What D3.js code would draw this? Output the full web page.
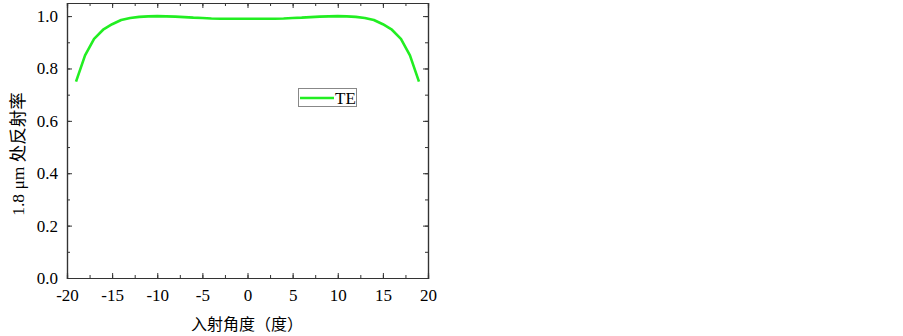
<!DOCTYPE html>
<html><head><meta charset="utf-8">
<script src="https://cdn.jsdelivr.net/npm/d3@7"></script>
<style>body{margin:0;background:#fff}svg{display:block}</style>
</head><body><svg id="c" width="903" height="336"></svg>
<script>
const angles = [-19,-18,-17,-16,-15,-14,-13,-12,-11,-10,-9,-8,-7,-6,-5,-4,-3,-2,-1,0,1,2,3,4,5,6,7,8,9,10,11,12,13,14,15,16,17,18,19];
const teValues = [0.75,0.85,0.913,0.948,0.969,0.985,0.993,0.997,0.999,1.0,0.999,0.998,0.996,0.994,0.993,0.991,0.99,0.99,0.99,0.99,0.99,0.99,0.99,0.991,0.993,0.994,0.996,0.998,0.999,1.0,0.999,0.997,0.993,0.985,0.969,0.948,0.913,0.85,0.75];
const xTicks = [-20,-15,-10,-5,0,5,10,15,20];
const yTicks = [0,0.2,0.4,0.6,0.8,1.0];
const seriesName = "TE";
const xTitle = "入射角度（度）";
const yTitle = "1.8 μm  处反射率";

const svg = d3.select("#c");
const L=67,R=428,T=3,B=278;
const x = d3.scaleLinear().domain([-20,20]).range([L,R]);
const y = d3.scaleLinear().domain([0,1.05]).range([B,T]);
const font = "'Liberation Serif','Times New Roman',serif";
const axisColor="#333";

function styleAxis(g){
  g.selectAll("path").attr("stroke",axisColor).attr("stroke-width",1.2);
  g.selectAll("line").attr("stroke",axisColor).attr("stroke-width",1);
  g.selectAll("text").attr("font-family",font).attr("font-size",17).attr("fill","#000");
}
const xMinor = d3.range(-20,20.01,2.5);
const yMinor = d3.range(0,1.05,0.1);
// bottom
svg.append("g").attr("transform",`translate(0,${B})`)
  .call(d3.axisBottom(x).tickValues(xMinor).tickSize(-3).tickFormat("")).call(styleAxis);
svg.append("g").attr("transform",`translate(0,${B})`)
  .call(d3.axisBottom(x).tickValues(xTicks).tickSize(-5).tickPadding(11).tickFormat(d=>String(d))).call(styleAxis);
// top
svg.append("g").attr("transform",`translate(0,${T})`)
  .call(d3.axisTop(x).tickValues(xMinor).tickSize(-3).tickFormat("")).call(styleAxis);
svg.append("g").attr("transform",`translate(0,${T})`)
  .call(d3.axisTop(x).tickValues(xTicks).tickSize(-5).tickFormat("")).call(styleAxis);
// left
svg.append("g").attr("transform",`translate(${L},0)`)
  .call(d3.axisLeft(y).tickValues(yMinor).tickSize(-3).tickFormat("")).call(styleAxis);
svg.append("g").attr("transform",`translate(${L},0)`)
  .call(d3.axisLeft(y).tickValues(yTicks).tickSize(-5).tickPadding(9).tickFormat(d3.format(".1f"))).call(styleAxis);
// right
svg.append("g").attr("transform",`translate(${R},0)`)
  .call(d3.axisRight(y).tickValues(yMinor).tickSize(-3).tickFormat("")).call(styleAxis);
svg.append("g").attr("transform",`translate(${R},0)`)
  .call(d3.axisRight(y).tickValues(yTicks).tickSize(-5).tickFormat("")).call(styleAxis);

const line = d3.line().x((d,i)=>x(angles[i])).y(d=>y(d));
svg.append("path").datum(teValues).attr("d",line).attr("fill","none")
  .attr("stroke","#22ee22").attr("stroke-width",2.6).attr("stroke-linejoin","round");

// legend
const lg = svg.append("g");
lg.append("rect").attr("x",298.5).attr("y",88.5).attr("width",58).attr("height",18)
  .attr("fill","#fff").attr("stroke","#888").attr("stroke-width",1);
lg.append("line").attr("x1",300).attr("x2",334).attr("y1",98).attr("y2",98)
  .attr("stroke","#22ee22").attr("stroke-width",2.6);
lg.append("text").attr("x",335).attr("y",104).text(seriesName)
  .attr("font-family",font).attr("font-size",17).attr("fill","#000");

svg.append("text").attr("x",247).attr("y",330).attr("text-anchor","middle")
  .attr("font-family","'Noto Sans CJK SC',sans-serif").attr("font-size",16).text(xTitle);
svg.append("text").attr("transform","translate(24,154) rotate(-90)").attr("text-anchor","middle")
  .attr("font-family",font+",'Noto Sans CJK SC'").attr("font-size",17.5).text(yTitle);
</script></body></html>
